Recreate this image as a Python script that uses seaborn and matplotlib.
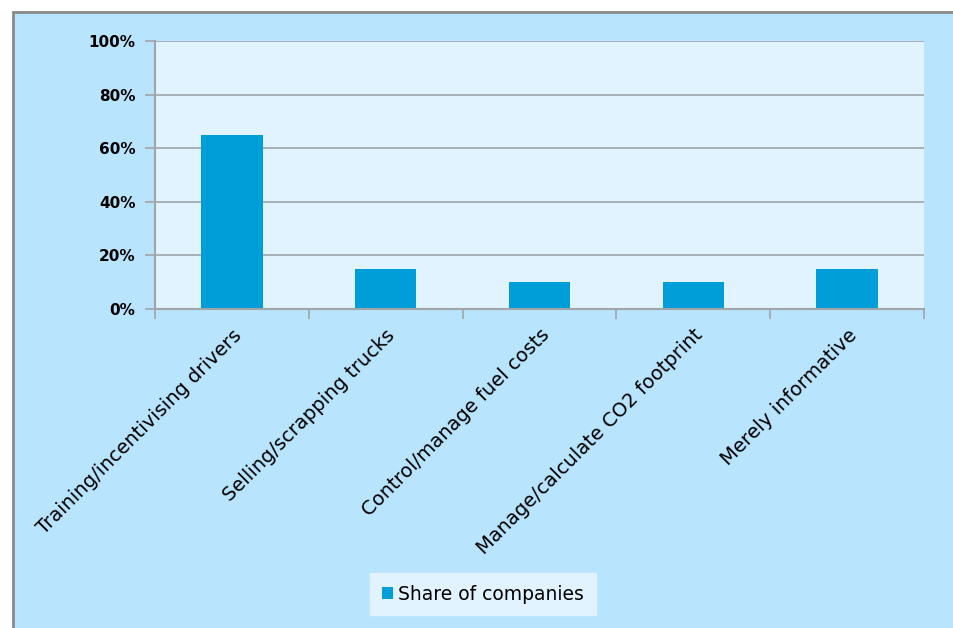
import matplotlib
matplotlib.use("Agg")
import matplotlib.pyplot as plt
import seaborn as sns
import pandas as pd
from matplotlib.patches import Rectangle
from matplotlib.ticker import PercentFormatter, FixedLocator

categories = ["Training/incentivising drivers", "Selling/scrapping trucks",
              "Control/manage fuel costs", "Manage/calculate CO2 footprint",
              "Merely informative"]
values = [65, 15, 10, 10, 15]
series_name = "Share of companies"
yticks = [0, 20, 40, 60, 80, 100]

sns.set_theme(style="white")
plt.rcParams['font.family'] = ['DejaVu Sans']

df = pd.DataFrame({"category": categories, "value": values, "series": series_name})

fig = plt.figure(figsize=(9.54, 6.28), dpi=100)
fig.patch.set_facecolor("white")
outer = Rectangle((13/954, -0.01), 1.0, 1 - 12/628 + 0.01, transform=fig.transFigure,
                  facecolor="#B9E4FD", edgecolor="#8A8A8A", linewidth=2.0, zorder=-10)
fig.patches.append(outer)

ax = fig.add_axes([155/954, 1 - 309/628, (924 - 155)/954, (309 - 41)/628])
ax.set_zorder(5)
ax.set_facecolor("#E1F3FF")
sns.barplot(data=df, x="category", y="value", hue="series", palette=["#009ED8"],
            width=0.4, ax=ax, saturation=1, legend=True, linewidth=0)

ax.set_xlim(-0.5, 4.5)
ax.set_ylim(0, 100)
ax.set_yticks(yticks)
ax.yaxis.set_major_formatter(PercentFormatter(decimals=0))
ax.grid(axis="y", color="#A0A5AA", linewidth=1.2)
ax.set_axisbelow(True)
for s in ["top", "right"]:
    ax.spines[s].set_visible(False)
for s in ["left", "bottom"]:
    ax.spines[s].set_color("#A0A5AA")
    ax.spines[s].set_linewidth(1.5)

ax.tick_params(axis="y", which="major", length=7, width=1.2, color="#A0A5AA",
               direction="out", left=True, labelsize=11, pad=7)
for lab in ax.get_yticklabels():
    lab.set_fontweight("bold")
    lab.set_color("black")

ax.xaxis.set_minor_locator(FixedLocator([-0.5, 0.5, 1.5, 2.5, 3.5, 4.5]))
ax.tick_params(axis="x", which="minor", length=7, width=1.2, color="#A0A5AA",
               direction="out", bottom=True)
ax.tick_params(axis="x", which="major", length=0, pad=12)
ax.set_xticks(range(len(categories)))
ax.set_xticklabels(categories, rotation=45, ha="right", va="top",
                   rotation_mode="anchor", fontsize=14, color="black")
ax.set_xlabel("")
ax.set_ylabel("")

leg = ax.legend(loc="center", bbox_to_anchor=(483/954, 1 - 594/628),
                bbox_transform=fig.transFigure, frameon=True, fancybox=False,
                fontsize=13.5, handlelength=0.6, handleheight=0.6, handletextpad=0.3,
                borderpad=0.6, borderaxespad=0)
leg.get_frame().set_facecolor("#E1F3FF")
leg.get_frame().set_edgecolor("#E1F3FF")
leg.get_frame().set_alpha(1)
for t in leg.get_texts():
    t.set_color("black")

fig.savefig("out.png", dpi=100, facecolor=fig.get_facecolor())
